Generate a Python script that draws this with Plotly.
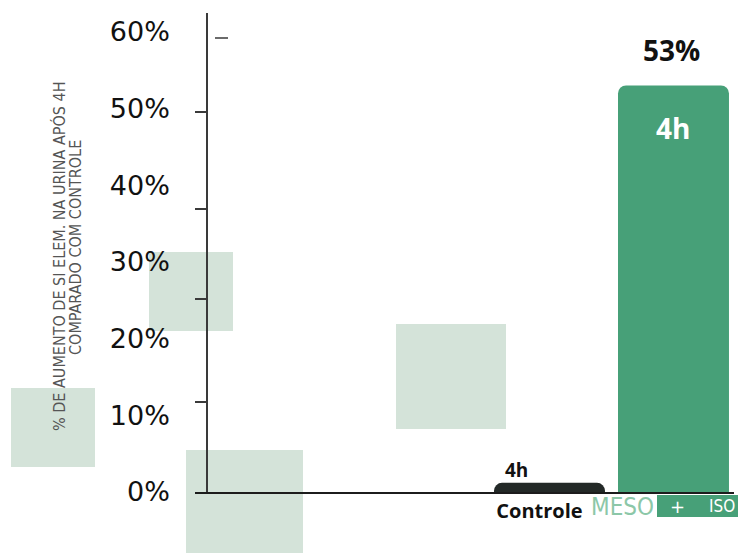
import plotly.graph_objects as go

# ---- data ----
categories = ["Controle", "Tratamento"]
category_labels = ["Controle", ""]
values = [1.2, 53]
bar_labels = ["4h", "4h"]
value_labels = ["", "53%"]
y_tick_values = [0, 10, 20, 30, 40, 50, 60]
y_tick_labels = ["0%", "10%", "20%", "30%", "40%", "50%", "60%"]
minor_tick_values = [11.7, 25.2, 36.9, 49.5]
y_title_lines = ["% DE AUMENTO DE SI ELEM. NA URINA APÓS 4H", "COMPARADO COM CONTROLE"]

GREEN = "#47a078"
DARK = "#232927"
PALE = "#d4e3d9"

fig = go.Figure()
fig.add_trace(go.Bar(
    x=categories, y=values,
    marker=dict(color=[DARK, GREEN], cornerradius=8, line=dict(width=0)),
    width=0.895, hoverinfo="skip", showlegend=False,
))
# invisible trace to carry the extra tick axis
fig.add_trace(go.Scatter(x=[categories[0]], y=[0], yaxis="y2", mode="markers",
                         marker=dict(opacity=0), hoverinfo="skip", showlegend=False))

pos = (207 - 195) / 539
fig.update_layout(
    width=738, height=545,
    margin=dict(l=187, r=12, t=5, b=61),
    paper_bgcolor="white", plot_bgcolor="rgba(0,0,0,0)",
    xaxis=dict(
        type="category", range=[-2.859, 1.488], domain=[0, 1],
        showline=True, linecolor="#1c1c1c", linewidth=1.5,
        tickvals=categories, ticktext=category_labels, ticks="",
        ticklabelshift=-10,
        tickfont=dict(family="Open Sans", size=20, color="#111", weight=700),
        showgrid=False, zeroline=False,
    ),
    yaxis=dict(
        range=[0, 62.45], anchor="free", position=pos,
        showline=True, linecolor="#3a3a3a", linewidth=1.5,
        tickvals=y_tick_values, ticktext=y_tick_labels,
        ticks="outside", ticklen=31, tickcolor="rgba(0,0,0,0)",
        tickfont=dict(family="DejaVu Sans", size=27, color="#111"),
        showgrid=False, zeroline=False,
    ),
    yaxis2=dict(
        range=[0, 62.45], anchor="free", position=pos, overlaying="y",
        side="left", showline=False, tickvals=minor_tick_values,
        showticklabels=False, ticks="outside", ticklen=12, tickwidth=1.5,
        tickcolor="#3a3a3a", showgrid=False, zeroline=False,
    ),
)

def px2x(p):
    return (p - 195) / 539

def py2y(p):
    return (492 - p) / 479

# decorative pale rectangles
for (x0, y0, x1, y1) in [(11, 388, 95, 467), (149, 252, 233, 331),
                         (186, 450, 303, 553), (396, 324, 506, 429)]:
    fig.add_shape(type="rect", xref="paper", yref="paper",
                  x0=px2x(x0), x1=px2x(x1), y0=py2y(y1), y1=py2y(y0),
                  fillcolor=PALE, line=dict(width=0), layer="below")

# stray tick near the top
fig.add_shape(type="line", xref="paper", yref="paper",
              x0=px2x(215), x1=px2x(228), y0=py2y(38), y1=py2y(38),
              line=dict(color="#3a3a3a", width=1.5))

# watermark box
fig.add_shape(type="rect", xref="paper", yref="paper",
              x0=px2x(657), x1=px2x(746), y0=py2y(517), y1=py2y(495),
              fillcolor=GREEN, line=dict(width=0))

# bar labels
fig.add_annotation(x=categories[1], y=values[1], text=value_labels[1], showarrow=False,
                   yanchor="bottom", yshift=14, xshift=-2,
                   font=dict(family="Open Sans", size=28, color="#111", weight=700))
fig.add_annotation(x=categories[1], y=values[1], text=bar_labels[1], showarrow=False,
                   yanchor="middle", yshift=-43,
                   font=dict(family="Open Sans", size=28, color="white", weight=700))
fig.add_annotation(x=categories[0], y=values[0], text=bar_labels[0], showarrow=False,
                   yanchor="middle", yshift=13, xshift=-33,
                   font=dict(family="Open Sans", size=19, color="#111", weight=700))

# y axis title (two lines, condensed)
fig.add_annotation(xref="paper", yref="paper", x=px2x(60), y=py2y(256),
                   text=y_title_lines[0], textangle=-90, showarrow=False,
                   xanchor="center", yanchor="middle",
                   font=dict(family="Liberation Sans Narrow, DejaVu Sans Condensed", size=16, color="#555"))
fig.add_annotation(xref="paper", yref="paper", x=px2x(76), y=py2y(248),
                   text=y_title_lines[1], textangle=-90, showarrow=False,
                   xanchor="center", yanchor="middle",
                   font=dict(family="Liberation Sans Narrow, DejaVu Sans Condensed", size=16, color="#555"))

# watermark text
fig.add_annotation(xref="paper", yref="paper", x=px2x(622), y=py2y(507),
                   text="MESO", showarrow=False, xanchor="center", yanchor="middle",
                   font=dict(family="Liberation Sans Narrow, DejaVu Sans Condensed", size=24, color="#8cc7a8"))
fig.add_annotation(xref="paper", yref="paper", x=px2x(677), y=py2y(506),
                   text="+", showarrow=False, xanchor="center", yanchor="middle",
                   font=dict(family="DejaVu Sans", size=18, color="white"))
fig.add_annotation(xref="paper", yref="paper", x=px2x(722), y=py2y(506),
                   text="ISO", showarrow=False, xanchor="center", yanchor="middle",
                   font=dict(family="Liberation Sans Narrow, DejaVu Sans Condensed", size=17, color="white"))

fig.write_html("out.html")
